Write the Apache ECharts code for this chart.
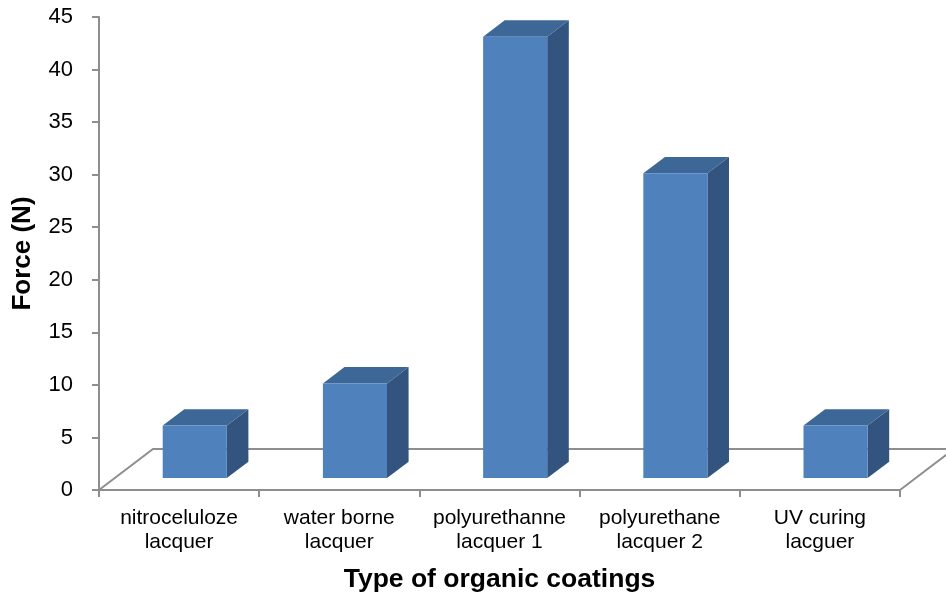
<!DOCTYPE html>
<html>
<head>
<meta charset="utf-8">
<script src="https://cdn.jsdelivr.net/npm/echarts@6/dist/echarts.min.js"></script>
<style>
  html, body { margin: 0; padding: 0; background: #fff; }
  #chart { width: 946px; height: 595px; }
</style>
</head>
<body>
<div id="chart"></div>
<script>
// Coating types and the measured force for each
const categories = [
  'nitroceluloze\nlacquer',
  'water borne\nlacquer',
  'polyurethanne\nlacquer 1',
  'polyurethane\nlacquer 2',
  'UV curing\nlacguer'
];
const forceValues = [5, 9, 42, 29, 5];
const yMin = 0, yMax = 45, yInterval = 5;

// Oblique "3D" projection: floor depth as a share of one category band
const DEPTH_X = 0.337, DEPTH_Y = 0.256;
const BAR_FRONT = 0.29;   // where the bar front face sits along the depth
const BAR_DEPTH = 0.40;   // bar thickness along the depth
const BAR_WIDTH = 0.40;   // bar width as a share of the band

const FONT = '"Liberation Sans", Arial, sans-serif';
const AXIS_COLOR = '#8e8e8e';

const chart = echarts.init(document.getElementById('chart'), null, { renderer: 'canvas' });

// Floor outline: left edge, back edge and right edge (front edge is the x axis)
function renderFloor(params, api) {
  const band = api.size([1, 0])[0];
  const n = categories.length;
  const left = api.coord([0, 0]);
  const right = api.coord([n - 1, 0]);
  const lx = left[0] - band / 2, rx = right[0] + band / 2, y = left[1];
  const dx = band * DEPTH_X, dy = -band * DEPTH_Y;
  return {
    type: 'polyline',
    shape: { points: [[lx, y], [lx + dx, y + dy], [rx + dx, y + dy], [rx, y]] },
    style: { stroke: AXIS_COLOR, lineWidth: 2, fill: null }
  };
}

// One box-shaped column: side face, top face, front face
function renderBar(params, api) {
  const i = api.value(0), v = api.value(1);
  const band = api.size([1, 0])[0];
  const base = api.coord([i, 0]);
  const top = api.coord([i, v]);
  const fx = band * DEPTH_X * BAR_FRONT, fy = -band * DEPTH_Y * BAR_FRONT;
  const sx = band * DEPTH_X * BAR_DEPTH, sy = -band * DEPTH_Y * BAR_DEPTH;
  const w = band * BAR_WIDTH;
  const x0 = base[0] - w / 2 + fx, x1 = x0 + w;
  const yb = base[1] + fy, yt = top[1] + fy;
  return {
    type: 'group',
    children: [
      { type: 'polygon',
        shape: { points: [[x1, yt], [x1 + sx, yt + sy], [x1 + sx, yb + sy], [x1, yb]] },
        style: { fill: '#32547f' } },
      { type: 'polygon',
        shape: { points: [[x0, yt], [x0 + sx, yt + sy], [x1 + sx, yt + sy], [x1, yt]] },
        style: { fill: '#3d6797' } },
      { type: 'rect',
        shape: { x: x0, y: yt, width: w, height: yb - yt },
        style: { fill: '#4f81bd' } }
    ]
  };
}

chart.setOption({
  animation: false,
  backgroundColor: '#fff',
  grid: { left: 99, right: 46, top: 17, bottom: 105, containLabel: false, outerBoundsMode: 'none' },
  xAxis: {
    type: 'category',
    data: categories,
    boundaryGap: true,
    axisLine: { show: true, lineStyle: { color: AXIS_COLOR, width: 2 } },
    axisTick: { show: true, length: 7, lineStyle: { color: AXIS_COLOR, width: 2 } },
    axisLabel: { color: '#000', fontFamily: FONT, fontSize: 21, lineHeight: 24, margin: 16, interval: 0 },
    splitLine: { show: false },
    name: 'Type of organic coatings',
    nameLocation: 'middle',
    nameGap: 76,
    nameTextStyle: { color: '#000', fontFamily: FONT, fontSize: 26.5, fontWeight: 'bold' }
  },
  yAxis: {
    type: 'value',
    min: yMin, max: yMax, interval: yInterval,
    axisLine: { show: true, lineStyle: { color: AXIS_COLOR, width: 2 } },
    axisTick: { show: true, length: 7, lineStyle: { color: AXIS_COLOR, width: 2 } },
    axisLabel: { color: '#000', fontFamily: FONT, fontSize: 22, margin: 26 },
    splitLine: { show: false },
    name: 'Force (N)',
    nameLocation: 'middle',
    nameGap: 63,
    nameTextStyle: { color: '#000', fontFamily: FONT, fontSize: 26, fontWeight: 'bold' }
  },
  series: [
    {
      type: 'custom',
      renderItem: renderFloor,
      data: [[0, 0]],
      clip: false,
      silent: true,
      z: 1
    },
    {
      type: 'custom',
      renderItem: renderBar,
      data: forceValues.map((v, i) => [i, v]),
      clip: false,
      z: 3
    }
  ]
});
</script>
</body>
</html>
